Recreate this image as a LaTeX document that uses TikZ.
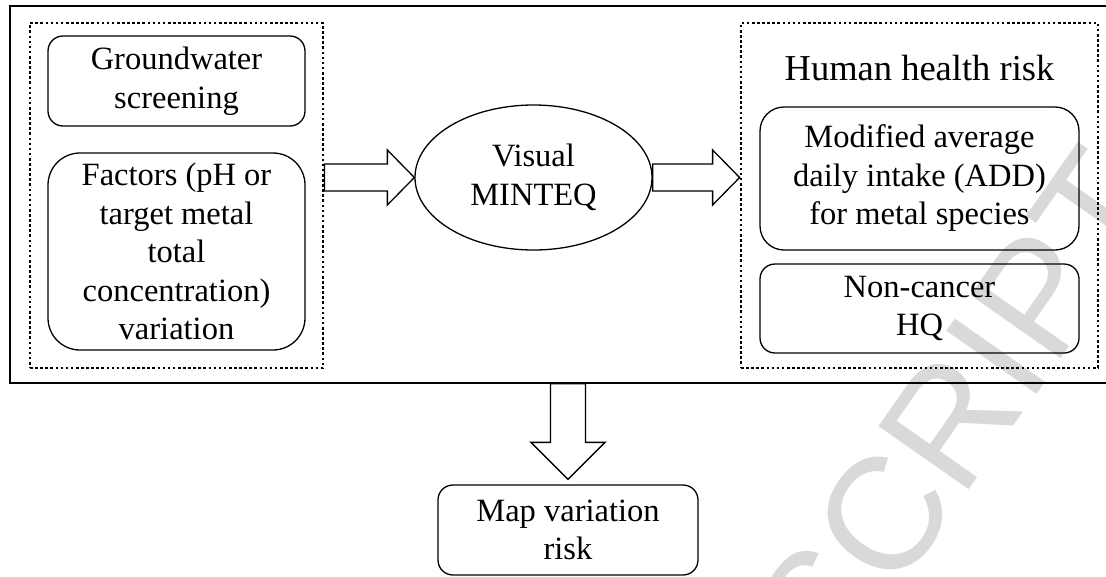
\documentclass[tikz,border=0pt]{standalone}
\usepackage{fontspec}
\setmainfont{Liberation Serif}
\newfontfamily\wmfont{Liberation Sans}
\usetikzlibrary{calc,shapes.geometric}
\begin{document}
\begin{tikzpicture}[x=1pt,y=-1pt,
  txt/.style={align=center, inner sep=0pt, font=\fontsize{32.5}{38.5}\selectfont},
  rbox/.style={txt, draw, line width=1.3pt, rounded corners=#1},
  dotbox/.style={draw, line width=2.8pt, dash pattern=on 2.6pt off 2.5pt, inner sep=0pt},
  ebox/.style={txt, draw, ellipse, line width=1.3pt},
  barrow/.style={draw, line width=1.3pt, fill=white, line join=miter},
  wm/.style={text=black!15, inner sep=0pt, font=\wmfont\fontsize{160}{160}\selectfont}
]
\useasboundingbox (0,0) rectangle (1106,576);
\clip (0,0) rectangle (1106,576);
% watermark
\node[wm, anchor=base east, rotate=55] (wmk) at (1171,202) {MANUSCRIPT};
% outer frame
\node[draw, line width=1.6pt, minimum width=1120pt, minimum height=377pt, inner sep=0pt] (O) at (570,194.5) {};
% left group
\node[dotbox, minimum width=293pt, minimum height=345pt] (L) at (176.5,195.5) {};
\node[rbox=15pt, minimum width=257pt, minimum height=90pt] (G) at (176.5,81) {Groundwater\\screening};
\node[rbox=32pt, minimum width=257pt, minimum height=197pt] (F) at (176.5,251.5) {Factors (pH or\\target metal\\total\\concentration)\\variation};
% ellipse
\node[ebox, minimum width=237pt, minimum height=145pt] (E) at (533.5,177.5) {Visual\\MINTEQ};
% right group
\node[dotbox, minimum width=357pt, minimum height=345pt] (R) at (919.5,195.5) {};
\node[txt, font=\fontsize{36.5}{40}\selectfont, anchor=base] (H) at (919.5,80) {Human health risk};
\node[rbox=24pt, minimum width=319pt, minimum height=143pt] (A) at (919.5,178.5) {Modified average\\daily intake (ADD)\\for metal species};
\node[rbox=15pt, minimum width=319pt, minimum height=89pt] (N) at (919.5,308.5) {Non-cancer\\HQ};
% bottom box
\node[rbox=15pt, minimum width=260pt, minimum height=90pt] (M) at (568,530) {Map variation\\risk};
% block arrows
\coordinate (a1) at (L.east |- E.west);
\draw[barrow] ($(a1)+(0,-13.5)$) -- ($(E.west)+(-27,-13.5)$) -- ($(E.west)+(-27,-27.5)$) -- (E.west)
  -- ($(E.west)+(-27,27.5)$) -- ($(E.west)+(-27,13.5)$) -- ($(a1)+(0,13.5)$) -- cycle;
\coordinate (a2) at (R.west |- E.east);
\draw[barrow] ($(E.east)+(0,-13.5)$) -- ($(a2)+(-27,-13.5)$) -- ($(a2)+(-27,-27.5)$) -- (a2)
  -- ($(a2)+(-27,27.5)$) -- ($(a2)+(-27,13.5)$) -- ($(E.east)+(0,13.5)$) -- cycle;
\coordinate (a3) at (M.north |- O.south);
\coordinate (a4) at ($(M.north)+(0,-5)$);
\draw[barrow] ($(a3)+(-17.5,0)$) -- ($(a4)+(-17.5,-37)$) -- ($(a4)+(-37,-37)$) -- (a4)
  -- ($(a4)+(37,-37)$) -- ($(a4)+(17.5,-37)$) -- ($(a3)+(17.5,0)$) -- cycle;
\end{tikzpicture}
\end{document}
